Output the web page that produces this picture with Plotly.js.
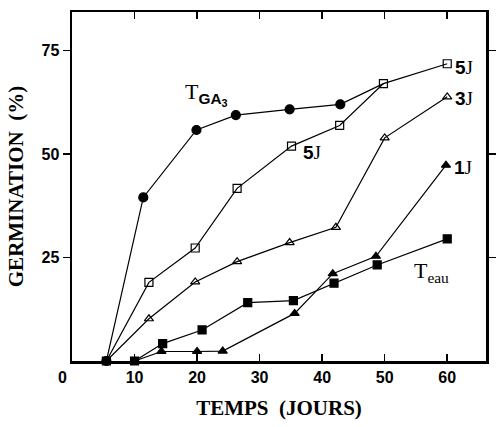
<!DOCTYPE html>
<html>
<head>
<meta charset="utf-8">
<script src="https://cdn.plot.ly/plotly-3.0.1.min.js"></script>
<style>
  html, body { margin: 0; padding: 0; background: #fff; }
  #chart { width: 500px; height: 427px; }
</style>
</head>
<body>
<div id="chart"></div>
<script>
// Germination (%) against time (days)
const gaDays = [5.5, 11.4, 19.9, 26.2, 34.8, 42.9, 49.8];
const gaGerm = [0, 39.5, 55.8, 59.4, 60.8, 62.0, 67.0];

const j5Days = [5.5, 12.3, 19.7, 26.4, 35.1, 42.8, 49.8, 60.0];
const j5Germ = [0, 19.0, 27.3, 41.7, 51.9, 56.9, 67.0, 71.8];

const j3Days = [5.5, 12.3, 19.7, 26.4, 34.8, 42.2, 50.0, 60.0];
const j3Germ = [0, 10.2, 19.1, 24.0, 28.6, 32.3, 53.9, 63.8];

const eauDays = [10.0, 14.5, 20.8, 28.1, 35.4, 41.9, 48.8, 60.0];
const eauGerm = [0, 4.2, 7.5, 14.1, 14.6, 18.8, 23.2, 29.5];

const j1Days = [10.0, 14.3, 20.0, 24.1, 35.6, 41.7, 48.6, 59.8];
const j1Germ = [0, 2.3, 2.3, 2.4, 11.5, 21.1, 25.3, 47.3];

const xTicks = [10, 20, 30, 40, 50, 60];
const yTicks = [25, 50, 75];

function series(x, y, symbol, size) {
    return {
        x: x, y: y,
        mode: 'lines+markers',
        line: { color: '#000', width: 1.2 },
        marker: { symbol: symbol, size: size, color: '#000', opacity: 1,
                  line: { color: '#000', width: 1.2 } },
        cliponaxis: false,
        hoverinfo: 'skip'
    };
}

// last GA3 point only joins the 5J square, no marker of its own
const gaSizes = gaDays.map((d, i) => i === gaDays.length - 1 ? 0 : 9);

const traces = [
    series(gaDays, gaGerm, 'circle', gaSizes),
    series(j5Days, j5Germ, 'square-open', 8),
    series(j3Days, j3Germ, 'triangle-up-open', 8),
    series(eauDays, eauGerm, 'square', 8),
    series(j1Days, j1Germ, 'triangle-up', 8)
];

const serif = 'Liberation Serif, Times New Roman, serif';
const sans = 'Liberation Sans, Arial, sans-serif';

function label(x, y, text, size) {
    return {
        x: x, y: y, text: text, showarrow: false,
        xanchor: 'left', yanchor: 'middle',
        font: { family: serif, size: size, color: '#000' }
    };
}

const bigJ = n => '<span style="font-family:Liberation Sans;font-weight:bold">' + n + '</span>J';

const layout = {
    width: 500, height: 427,
    margin: { l: 72, r: 14, t: 12, b: 66 },
    paper_bgcolor: '#fff', plot_bgcolor: '#fff',
    showlegend: false,
    xaxis: {
        range: [0, 66.2],
        tickvals: xTicks,
        ticks: 'inside', ticklen: 7, tickwidth: 1.5, tickcolor: '#000',
        showline: true, linewidth: 2.5, linecolor: '#000', mirror: 'ticks',
        showgrid: false, zeroline: false,
        tickfont: { family: sans, size: 16, color: '#000', weight: 'bold' },
        title: { text: '<b>TEMPS  (JOURS)</b>', standoff: 16,
                 font: { family: serif, size: 21, color: '#000' } }
    },
    yaxis: {
        range: [0, 84.3],
        tickvals: yTicks,
        ticks: 'outside', ticklen: 7, tickwidth: 1.5, tickcolor: '#000',
        showline: true, linewidth: 2.5, linecolor: '#000', mirror: 'ticks',
        showgrid: false, zeroline: false,
        tickfont: { family: sans, size: 16, color: '#000', weight: 'bold' },
        title: { text: '<b>GERMINATION  (%)</b>', standoff: 12,
                 font: { family: serif, size: 21, color: '#000' } }
    },
    annotations: [
        { x: 0, y: 0, xref: 'x', yref: 'y', text: '<b>0</b>', showarrow: false,
          xanchor: 'right', yanchor: 'top', xshift: -3, yshift: -6,
          font: { family: sans, size: 16, color: '#000' } },
        label(17.7, 64.4, 'T<sub><b><span style="font-family:Liberation Sans">GA<sub>3</sub></span></b></sub>', 22),
        label(36.6, 50.4, bigJ(5), 19),
        label(61.0, 70.8, bigJ(5), 19),
        label(61.0, 63.3, bigJ(3), 19),
        label(60.8, 46.8, bigJ(1), 19),
        label(54.4, 21.6, 'T<sub>eau</sub>', 22)
    ]
};

Plotly.newPlot('chart', traces, layout, { displayModeBar: false, staticPlot: true });
</script>
</body>
</html>
